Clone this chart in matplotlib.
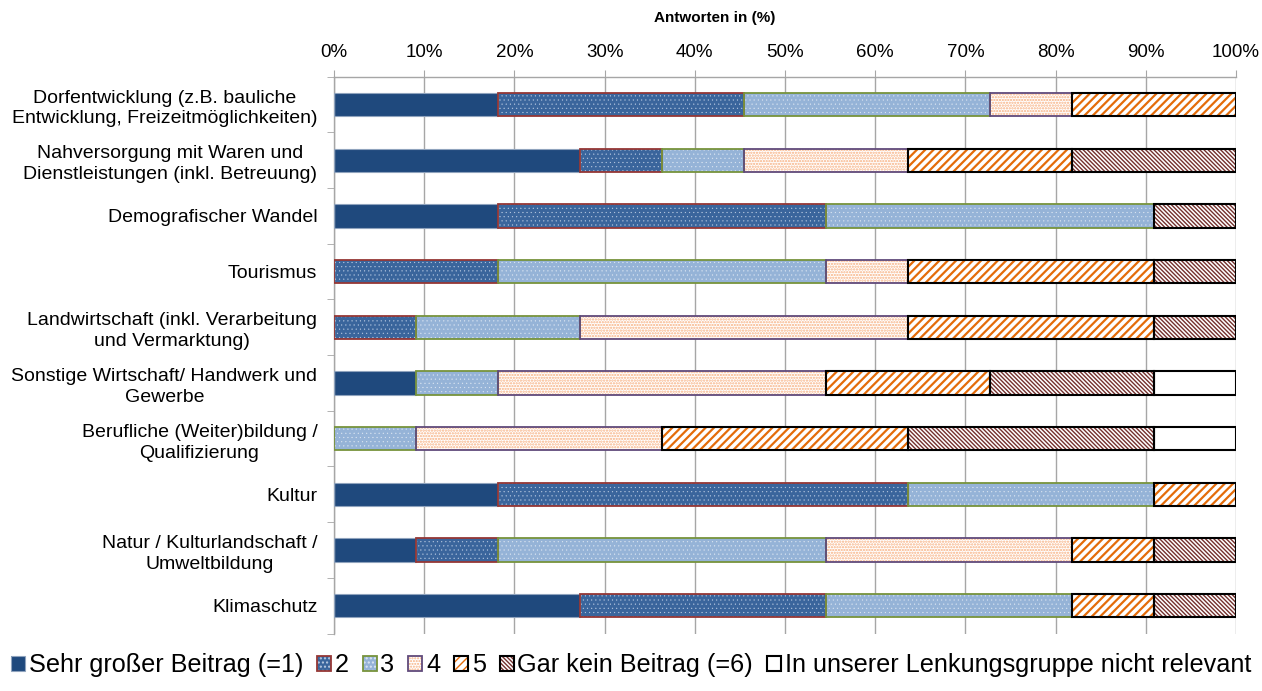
import matplotlib
matplotlib.use("Agg")
import matplotlib.pyplot as plt
import numpy as np
from matplotlib.patches import Patch
from matplotlib.legend_handler import HandlerTuple

plt.rcParams['font.family'] = ['Liberation Sans', 'DejaVu Sans']

categories = [
    "Dorfentwicklung (z.B. bauliche\nEntwicklung, Freizeitmöglichkeiten)",
    "Nahversorgung mit Waren und\nDienstleistungen (inkl. Betreuung)",
    "Demografischer Wandel",
    "Tourismus",
    "Landwirtschaft (inkl. Verarbeitung\nund Vermarktung)",
    "Sonstige Wirtschaft/ Handwerk und\nGewerbe",
    "Berufliche (Weiter)bildung /\nQualifizierung",
    "Kultur",
    "Natur / Kulturlandschaft /\nUmweltbildung",
    "Klimaschutz",
]

series_labels = [
    "Sehr großer Beitrag (=1)",
    "2",
    "3",
    "4",
    "5",
    "Gar kein Beitrag (=6)",
    "In unserer Lenkungsgruppe nicht relevant",
]

# answer shares in percent, one list per answer option
beitrag_1 = [18.18, 27.27, 18.18, 0, 0, 9.09, 0, 18.18, 9.09, 27.27]
beitrag_2 = [27.27, 9.09, 36.36, 18.18, 9.09, 0, 0, 45.45, 9.09, 27.27]
beitrag_3 = [27.27, 9.09, 36.36, 36.36, 18.18, 9.09, 9.09, 27.27, 36.36, 27.27]
beitrag_4 = [9.09, 18.18, 0, 9.09, 36.36, 36.36, 27.27, 0, 27.27, 0]
beitrag_5 = [18.18, 18.18, 0, 27.27, 27.27, 18.18, 27.27, 9.09, 9.09, 9.09]
beitrag_6 = [0, 18.18, 9.09, 9.09, 9.09, 18.18, 27.27, 0, 9.09, 9.09]
nicht_relevant = [0, 0, 0, 0, 0, 9.09, 9.09, 0, 0, 0]

series = [beitrag_1, beitrag_2, beitrag_3, beitrag_4, beitrag_5, beitrag_6, nicht_relevant]

x_ticks = list(range(0, 101, 10))
x_ticklabels = [f"{t}%" for t in x_ticks]

# fill, hatch colour, hatch, outline colour, outline width, hatch width
styles = [
    dict(fc="#1F497D", hc="#1F497D", hatch=None, ec="#8FA3BD", lw=0.8, hlw=1.0),
    dict(fc="#3A659C", hc="#B8C9E1", hatch="....", ec="#953735", lw=1.3, hlw=0.3),
    dict(fc="#95B3D7", hc="#DCE6F2", hatch="....", ec="#77933C", lw=1.3, hlw=0.3),
    dict(fc="#FFFFFF", hc="#F7B081", hatch="......", ec="#604A7B", lw=1.3, hlw=1.1),
    dict(fc="#FFFFFF", hc="#E46C0A", hatch="////", ec="#000000", lw=1.5, hlw=1.6),
    dict(fc="#FFFFFF", hc="#74302D", hatch="\\" * 8, ec="#000000", lw=1.5, hlw=1.0),
    dict(fc="#FFFFFF", hc="#FFFFFF", hatch=None, ec="#000000", lw=1.5, hlw=1.0),
]

fig = plt.figure(figsize=(12.62, 6.91), dpi=100)
ax = fig.add_axes([0.2647, 0.0832, 0.9794 - 0.2647, 0.889 - 0.0832])

y = np.arange(len(categories))
bar_h = 0.42
left = np.zeros(len(categories))
legend_handles = []
for vals, st in zip(series, styles):
    vals = np.array(vals, dtype=float)
    fill = ax.barh(y, vals, left=left, height=bar_h, color=st["fc"],
                   edgecolor=st["hc"], hatch=st["hatch"], linewidth=0, zorder=2)
    for p in fill:
        if hasattr(p, "set_hatch_linewidth"):
            p.set_hatch_linewidth(st["hlw"])
    outline = ax.barh(y, vals, left=left, height=bar_h, fill=False,
                      edgecolor=st["ec"], linewidth=st["lw"], zorder=3)
    for p_fill, p_out, v in zip(fill, outline, vals):
        if v <= 0:
            p_fill.set_visible(False)
            p_out.set_visible(False)
    left += vals
    hp = Patch(facecolor=st["fc"], edgecolor=st["hc"], hatch=st["hatch"], linewidth=0)
    if hasattr(hp, "set_hatch_linewidth"):
        hp.set_hatch_linewidth(st["hlw"])
    op = Patch(facecolor="none", edgecolor=st["ec"], linewidth=st["lw"])
    legend_handles.append((hp, op))

ax.set_xlim(0, 100)
ax.set_ylim(len(categories) - 0.5, -0.5)

ax.xaxis.tick_top()
ax.set_xticks(x_ticks)
ax.set_xticklabels(x_ticklabels, fontsize=13.5)
ax.tick_params(axis="x", direction="out", length=5, color="#A6A6A6", pad=6)
ax.grid(axis="x", color="#A6A6A6", linewidth=1, zorder=0)
ax.set_axisbelow(True)

ax.set_yticks(y)
ax.set_yticklabels(categories, fontsize=14, multialignment="center", linespacing=1.3)
ax.tick_params(axis="y", which="major", length=0, pad=12)
ax.set_yticks(np.arange(-0.5, len(categories), 1.0), minor=True)
ax.tick_params(axis="y", which="minor", direction="out", length=5, color="#A6A6A6")

for side in ("bottom", "right"):
    ax.spines[side].set_visible(False)
for side in ("top", "left"):
    ax.spines[side].set_color("#A6A6A6")
    ax.spines[side].set_linewidth(1)

fig.text(0.566, 0.974, "Antworten in (%)", fontsize=11, fontweight="bold",
         ha="center", va="center")

fig.legend(legend_handles, series_labels, loc="center", bbox_to_anchor=(0.5, 0.037),
           ncol=7, frameon=False, fontsize=18.2, handlelength=0.55, handleheight=0.55,
           handletextpad=0.15, columnspacing=0.55,
           handler_map={tuple: HandlerTuple(ndivide=1)})

fig.savefig("out.png", dpi=100)
